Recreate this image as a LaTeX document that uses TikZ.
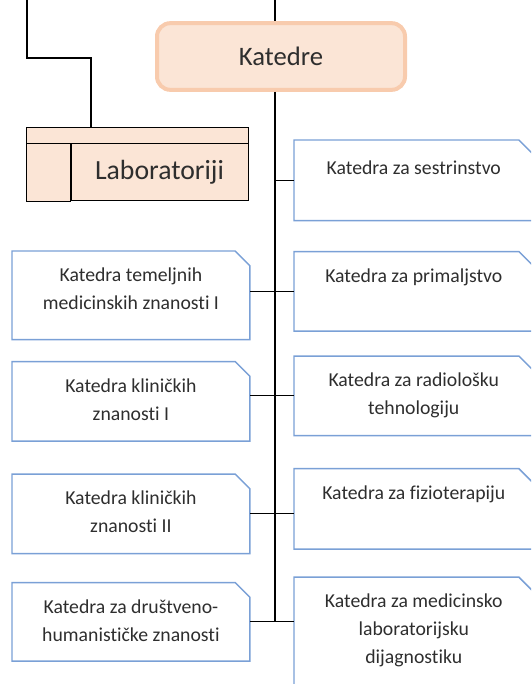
\documentclass[tikz,border=0pt]{standalone}
\usepackage{fontspec}
\setmainfont{Carlito}[Ligatures=NoCommon]
\usepackage{tikz}
\usetikzlibrary{positioning}
\definecolor{deptblue}{HTML}{7AA0D6}
\definecolor{peach}{HTML}{FBE5D6}
\definecolor{peachline}{HTML}{F8CBAD}
\definecolor{txtgray}{HTML}{2E2E2E}
\tikzstyle{head} = [draw=peachline, line width=3pt, fill=peach, rounded corners=10pt,
    minimum width=186pt, minimum height=50pt, text=txtgray,
    font=\fontsize{20}{24}\selectfont]
\tikzstyle{dept} = [rectangle, inner sep=0pt, minimum width=178pt,
    text=txtgray, font=\fontsize{14.8}{21}\selectfont]
\tikzstyle{deptline} = [draw=deptblue, line width=1.1pt]
\tikzstyle{labcell} = [draw, fill=peach, line width=0.75pt, minimum width=132.75pt,
    minimum height=42.75pt, text=txtgray, font=\fontsize{20.8}{24}\selectfont]
\tikzstyle{labline} = [draw, fill=peach, line width=0.75pt]
\tikzstyle{conn} = [line width=0.9pt]
\newcommand{\depttext}[2]{\parbox[t][#1][t]{170pt}{\centering\vspace*{12.5pt}#2}}

\begin{document}
\begin{tikzpicture}[x=0.75pt, y=0.75pt]
    \useasboundingbox (0,0) rectangle (531,-684);
    \clip (0,0) rectangle (531,-684);
    % We start by placing the head blocks
    \node [head] (katedre) at (281,-56.5) {Katedre};
    \node [labcell] (lab) at (159.5,-172.5) {Laboratoriji};
    \coordinate (labin) at (27,0);
    \coordinate (bend) at (91,-58);
    \draw [conn] (labin) |- (bend) -- ([yshift=12pt]bend |- lab.north);
    \draw [labline] (lab.north east) rectangle ([xshift=-33pt, yshift=12pt]lab.north west);
    \draw [labline] (lab.north west) rectangle ([xshift=-33pt]lab.south west);
    % Then the right column of departments
    \node [dept, minimum width=179.25pt, anchor=north west] (sestr) at (294,-140) {\depttext{60pt}{\vspace*{3pt}Katedra za sestrinstvo}};
    \node [dept, minimum width=179.25pt, below=23.25pt of sestr] (primal) {\depttext{59.25pt}{Katedra za primaljstvo}};
    \node [dept, minimum width=179.25pt, below=18.75pt of primal] (radio) {\depttext{59.25pt}{Katedra za radiološku\\tehnologiju}};
    \node [dept, minimum width=179.25pt, below=24.75pt of radio] (fizio) {\depttext{60pt}{Katedra za fizioterapiju}};
    \node [dept, minimum width=179.25pt, below=21pt of fizio] (medlab) {\depttext{97.5pt}{Katedra za medicinsko\\laboratorijsku\\dijagnostiku}};
    % and the left column
    \node [dept, anchor=north west] (temelj) at (12,-251) {\depttext{66pt}{Katedra temeljnih\\medicinskih znanosti I}};
    \node [dept, below=16.5pt of temelj] (klin1) {\depttext{59.25pt}{Katedra kliničkih\\znanosti I}};
    \node [dept, below=24.75pt of klin1] (klin2) {\depttext{59.25pt}{Katedra kliničkih\\znanosti II}};
    \node [dept, below=21.75pt of klin2] (drustv) {\depttext{58.5pt}{Katedra za društveno-\\humanističke znanosti}};
    % Frames with the cut corner
    \foreach \n in {sestr,primal,radio,fizio,medlab,temelj,klin1,klin2,drustv}
        \draw [deptline] (\n.south west) -- (\n.north west) -- ([xshift=-11pt]\n.north east)
            -- ([yshift=-11pt]\n.north east) -- (\n.south east) -- cycle;
    % We draw the spine and the branches
    \coordinate (spinetop) at (275,0);
    \draw [conn] (spinetop) -- (spinetop |- katedre.north);
    \draw [conn] (spinetop |- katedre.south) -- (spinetop |- drustv.east);
    \draw [conn] (sestr.west) -- (sestr.west -| spinetop);
    \draw [conn] (primal.west) -- (primal.west -| temelj.east);
    \draw [conn] (radio.west) -- (radio.west -| klin1.east);
    \draw [conn] (klin2.east) -- (klin2.east -| fizio.west);
    \draw [conn] (drustv.east) -- (drustv.east -| medlab.west);
\end{tikzpicture}
\end{document}
